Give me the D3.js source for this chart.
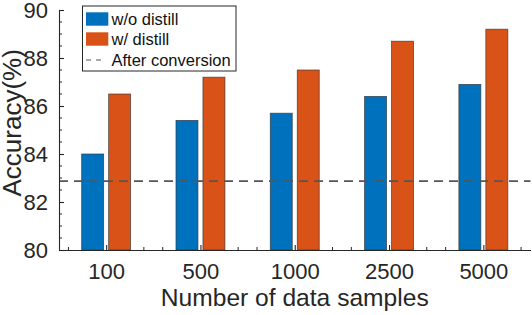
<!DOCTYPE html>
<html>
<head>
<meta charset="utf-8">
<script src="https://cdn.jsdelivr.net/npm/d3@7"></script>
<style>
  body { margin: 0; background: #fff; }
  svg { display: block; font-family: "Liberation Sans", Arial, sans-serif; }
</style>
</head>
<body>
<svg width="532" height="315"></svg>
<script>
// data
var categories = ["100", "500", "1000", "2500", "5000"];
var woDistill = [84.0, 85.4, 85.7, 86.4, 86.9];
var wDistill = [86.5, 87.2, 87.5, 88.7, 89.2];
var afterConversion = 82.87;
var yTicks = [80, 82, 84, 86, 88, 90];
var seriesNames = ["w/o distill", "w/ distill", "After conversion"];
var seriesColors = ["#0072BD", "#D95319"];

var axisColor = "#262626";
var svg = d3.select("svg");

var x = d3.scaleLinear().domain([0.5, 5.5]).range([59, 530.5]);
var y = d3.scaleLinear().domain([80, 90]).range([250, 10]);

var barOffset = 0.143, barWidth = 0.233;

// minor ticks (drawn first so bars sit over them)
var yMinor = d3.range(80.5, 90, 0.5).filter(function(v) { return v % 2 != 0; });
svg.append("g").selectAll("line")
   .data(yMinor)
   .enter()
   .append("line")
   .attr("x1", x(0.5)).attr("x2", x(0.5) + 3)
   .attr("y1", function(d) { return y(d); })
   .attr("y2", function(d) { return y(d); })
   .style("stroke", axisColor).style("stroke-width", 1);

var xMinor = d3.range(0.6, 5.45, 0.2).filter(function(v) {
    return Math.abs(v - Math.round(v)) > 0.05;
});
svg.append("g").selectAll("line")
   .data(xMinor)
   .enter()
   .append("line")
   .attr("x1", function(d) { return x(d); })
   .attr("x2", function(d) { return x(d); })
   .attr("y1", y(80)).attr("y2", y(80) - 3)
   .style("stroke", axisColor).style("stroke-width", 1);

// bars
var drawBars = function(values, offset, color)
{
    svg.append("g")
       .selectAll("rect")
       .data(values)
       .enter()
       .append("rect")
       .attr("x", function(d, i) { return x(i + 1 + offset - barWidth / 2); })
       .attr("width", x(barWidth) - x(0))
       .attr("y", function(d) { return y(d); })
       .attr("height", function(d) { return y(80) - y(d); })
       .style("fill", color)
       .style("stroke", "#333")
       .style("stroke-opacity", 0.8)
       .style("stroke-width", 0.8);
};
drawBars(woDistill, -barOffset, seriesColors[0]);
drawBars(wDistill, barOffset, seriesColors[1]);

// after conversion line
svg.append("line")
   .attr("x1", x(0.5)).attr("x2", x(5.5))
   .attr("y1", y(afterConversion)).attr("y2", y(afterConversion))
   .style("stroke", "#555")
   .style("stroke-width", 1.6)
   .style("stroke-dasharray", "9,6");

// axes
var yAxis = d3.axisLeft(y).tickValues(yTicks).tickSizeInner(-5).tickSizeOuter(0).tickPadding(11);
var gy = svg.append("g").attr("transform", "translate(" + x(0.5) + ",0)").call(yAxis);
gy.selectAll("text").style("font-size", "22px").style("fill", axisColor).attr("dy", "0.36em");

var xAxis = d3.axisBottom(x).tickValues([1, 2, 3, 4, 5])
              .tickFormat(function(d) { return categories[d - 1]; })
              .tickSizeInner(-5).tickSizeOuter(0).tickPadding(13);
var gx = svg.append("g").attr("transform", "translate(0," + y(80) + ")").call(xAxis);
gx.selectAll("text").style("font-size", "22px").style("fill", axisColor);

svg.selectAll(".domain, .tick line").style("stroke", axisColor).style("stroke-width", 1.1);

// axis titles
svg.append("text")
   .attr("x", x(3)).attr("y", 306)
   .attr("text-anchor", "middle")
   .style("font-size", "24.6px").style("fill", axisColor)
   .text("Number of data samples");

svg.append("text")
   .attr("transform", "translate(20.5," + y(85.3) + ") rotate(-90)")
   .attr("text-anchor", "middle")
   .style("font-size", "26px").style("fill", axisColor)
   .text("Accuracy(%)");

// legend
var legend = svg.append("g");
legend.append("rect")
      .attr("x", 82.5).attr("y", 6).attr("width", 153.5).attr("height", 65)
      .style("fill", "#fff").style("stroke", axisColor).style("stroke-width", 1);

var rowY = [19, 39, 60];
legend.selectAll("rect.key")
      .data(seriesColors)
      .enter()
      .append("rect")
      .attr("class", "key")
      .attr("x", 86).attr("width", 22.3)
      .attr("y", function(d, i) { return rowY[i] - 6.7; })
      .attr("height", 13.4)
      .style("fill", function(d) { return d; });

legend.append("line")
      .attr("x1", 86).attr("x2", 105)
      .attr("y1", rowY[2]).attr("y2", rowY[2])
      .style("stroke", "#555").style("stroke-width", 1.2)
      .style("stroke-dasharray", "5,5");

legend.selectAll("text")
      .data(seriesNames)
      .enter()
      .append("text")
      .attr("x", 111.5)
      .attr("y", function(d, i) { return rowY[i]; })
      .attr("dy", "0.36em")
      .style("font-size", "16.5px").style("fill", "#111")
      .text(function(d) { return d; });
</script>
</body>
</html>
